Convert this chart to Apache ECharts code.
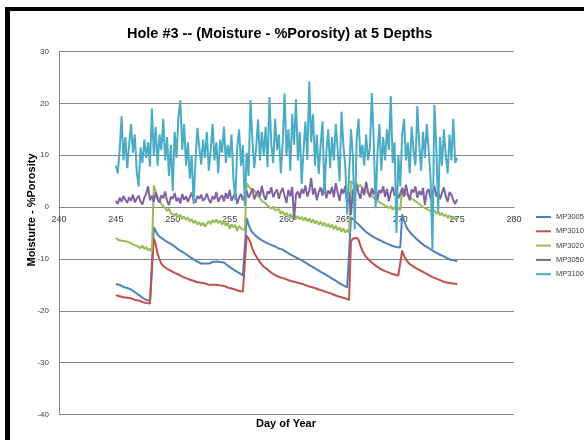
<!DOCTYPE html>
<html>
<head>
<meta charset="utf-8">
<script src="https://cdn.jsdelivr.net/npm/echarts@6/dist/echarts.min.js"></script>
<style>
html,body{margin:0;padding:0;background:#fff;}
#chart{width:584px;height:440px;}
</style>
</head>
<body>
<div id="chart"></div>
<script>
// sampling: one reading every 4 hours from day 245.0 to day 275.0
const START_DAY = 245;
const STEP_DAY = 1 / 6;

const seriesNames = ['MP3005', 'MP3010', 'MP3020', 'MP3050', 'MP3100'];
const xTicks = [240, 245, 250, 255, 260, 265, 270, 275, 280];
const yTicks = [-40, -30, -20, -10, 0, 10, 20, 30];

const mp3005 = [
-14.9,-15.1,-15.0,-15.3,-15.4,-15.3,-15.6,-15.8,-15.9,-16.2,-16.4,-16.7,-16.9,-17.2,-17.5,-17.6,-17.9,-17.8,-18.0,-18.2,
-3.9,-4.6,-5.3,-5.7,-6.0,-6.2,-6.4,-6.7,-6.8,-7.1,-7.3,-7.6,-7.9,-8.2,-8.5,-8.6,-8.9,-9.1,-9.4,-9.6,
-9.9,-10.1,-10.3,-10.5,-10.6,-10.9,-11.0,-10.9,-11.1,-10.9,-10.8,-10.6,-10.4,-10.5,-10.3,-10.6,-10.8,-10.7,-11.0,-11.3,
-11.5,-11.8,-12.0,-12.3,-12.5,-12.7,-12.9,-13.2,-13.3,
-2.1,-3.4,-4.3,-4.9,-5.2,-5.6,-5.9,-6.2,-6.5,-6.6,-6.9,-7.0,-7.2,-7.3,-7.5,-7.6,-7.9,-8.0,-8.1,-8.2,
-8.5,-8.7,-8.9,-9.1,-9.3,-9.5,-9.8,-9.9,-10.1,-10.3,-10.4,-10.7,-10.9,-11.2,-11.4,-11.6,-11.8,-12.0,-12.2,-12.5,
-12.7,-12.9,-13.1,-13.3,-13.5,-13.8,-14.0,-14.2,-14.4,-14.7,-14.8,-15.1,-15.3,-15.5,-15.7,
-2.0,-2.3,-2.6,-3.0,-3.3,-3.7,-4.1,-4.4,-4.8,-5.1,-5.3,-5.6,-5.8,-6.0,-6.2,-6.4,-6.5,-6.7,-6.9,-7.0,
-7.2,-7.3,-7.5,-7.6,-7.7,-7.6,-7.8,
-1.4,-2.6,-3.6,-4.3,-4.8,-5.2,-5.6,-5.9,-6.3,-6.6,-6.9,-7.2,-7.5,-7.7,-7.9,-8.2,-8.4,-8.6,-8.8,-9.0,
-9.2,-9.4,-9.5,-9.7,-9.9,-10.0,-10.2,-10.4,-10.3,-10.5
];

const mp3010 = [
-17.0,-17.1,-17.2,-17.2,-17.4,-17.3,-17.5,-17.6,-17.6,-17.8,-17.9,-18.0,-18.0,-18.2,-18.3,-18.3,-18.5,-18.4,-18.6,-18.7,
-6.0,-7.2,-8.9,-10.1,-10.9,-11.4,-11.7,-11.9,-12.1,-12.3,-12.4,-12.7,-12.8,-13.0,-13.2,-13.4,-13.5,-13.7,-13.8,-14.0,
-14.1,-14.2,-14.3,-14.5,-14.6,-14.6,-14.8,-14.7,-14.9,-15.0,-14.9,-15.0,-15.1,-15.0,-15.2,-15.1,-15.3,-15.2,-15.4,-15.5,
-15.5,-15.7,-15.8,-15.9,-16.0,-16.2,-16.1,-16.3,-16.4,
-5.5,-5.6,-6.8,-8.0,-8.9,-9.5,-10.1,-10.6,-11.1,-11.5,-11.8,-12.0,-12.4,-12.7,-12.9,-13.1,-13.3,-13.4,-13.6,-13.7,
-13.8,-13.9,-14.1,-14.2,-14.3,-14.4,-14.5,-14.6,-14.7,-14.8,-14.9,-15.0,-15.2,-15.3,-15.4,-15.5,-15.6,-15.7,-15.9,-16.0,
-16.1,-16.3,-16.4,-16.5,-16.6,-16.8,-16.9,-17.0,-17.2,-17.3,-17.4,-17.5,-17.6,-17.7,-17.9,
-6.6,-6.1,-6.0,-5.9,-6.3,-7.5,-8.4,-9.1,-9.6,-10.0,-10.3,-10.7,-11.0,-11.3,-11.6,-11.8,-12.0,-12.2,-12.3,-12.5,
-12.6,-12.8,-12.9,-13.0,-13.1,-13.2,-13.3,
-8.4,-9.4,-10.1,-10.6,-11.0,-11.3,-11.5,-11.7,-11.9,-12.0,-12.3,-12.5,-12.7,-12.9,-13.1,-13.3,-13.5,-13.6,-13.8,-14.0,
-14.1,-14.3,-14.4,-14.5,-14.6,-14.7,-14.7,-14.9,-14.8,-14.9
];

const mp3020 = [
-5.9,-6.3,-6.1,-6.5,-6.3,-6.6,-6.4,-6.8,-6.7,-7.2,-6.9,-7.5,-7.3,-7.9,-7.4,-8.1,-7.7,-8.4,-8.0,-8.6,
4.2,3.1,2.0,1.5,0.6,0.9,-0.2,-0.7,-0.3,-1.2,-0.9,-1.6,-1.2,-2.0,-1.5,-2.3,-1.8,-2.5,-2.0,-2.8,
-2.3,-3.1,-2.6,-3.4,-2.9,-3.6,-3.0,-3.8,-3.2,-2.7,-3.3,-2.5,-3.0,-2.4,-3.1,-2.6,-3.4,-2.8,-3.6,-3.0,
-4.2,-3.3,-3.9,-3.4,-4.6,-3.6,-4.1,-3.8,-4.5,
4.6,4.0,3.6,3.9,3.2,2.7,2.1,1.8,1.2,1.5,0.7,0.3,0.6,-0.3,0.1,-0.6,-0.9,-0.4,-1.3,-0.8,
-1.6,-1.1,-1.9,-1.3,-2.1,-1.5,-2.3,-1.7,-2.4,-1.9,-2.6,-2.0,-2.8,-2.2,-3.0,-2.4,-3.2,-2.6,-3.4,-2.8,
-3.6,-3.0,-3.8,-3.2,-4.0,-3.4,-4.3,-3.6,-4.5,-3.9,-4.8,-4.1,-4.9,-4.4,-5.0,
5.0,4.6,4.1,4.5,3.9,4.3,3.6,3.9,3.0,3.3,2.4,2.7,1.8,2.0,1.2,1.5,0.7,1.0,0.3,0.6,
-0.2,0.2,-0.5,0.0,-0.7,-0.2,-0.6,
3.8,3.1,2.5,2.7,1.9,2.2,1.4,1.6,0.9,1.1,0.3,0.6,-0.2,0.1,-0.6,-0.3,-1.0,-0.6,-1.3,-0.9,
-1.6,-1.1,-1.8,-1.4,-2.1,-1.6,-2.3,-1.8,-2.4,-2.0
];

const mp3050 = [
1.2,0.6,1.8,1.0,2.1,1.4,0.8,1.9,1.2,2.4,0.9,1.6,2.2,1.1,0.5,1.8,2.6,4.0,1.3,
2.2,1.0,2.8,1.5,0.9,2.3,1.7,3.0,1.2,0.4,2.0,1.6,2.7,1.1,1.8,0.7,2.5,1.4,2.1,1.0,1.9,2.8,1.3,0.9,2.2,1.6,2.4,1.2,1.7,
2.6,1.4,0.8,2.1,1.5,2.9,1.0,1.8,2.3,1.1,2.7,1.6,3.3,1.2,2.0,2.8,0.6,1.9,2.5,1.3,2.2,
3.1,1.8,2.6,3.6,1.5,2.4,3.2,2.0,4.1,2.3,1.4,3.0,2.6,3.8,1.9,2.8,3.4,1.6,2.9,3.7,2.2,0.8,3.3,2.1,3.9,-2.5,2.4,3.0,1.7,3.5,2.6,4.2,
2.0,3.1,5.6,2.4,3.6,1.3,2.9,3.8,2.2,4.4,1.7,3.2,2.5,3.9,1.9,4.6,2.8,1.2,3.5,2.6,4.1,0.3,2.9,
-1.5,3.4,2.1,4.5,2.7,1.6,3.8,2.3,4.9,3.0,1.9,3.6,2.4,4.2,1.4,3.3,2.7,4.0,2.0,3.5,1.1,2.8,3.9,2.2,3.1,1.7,2.6,
3.6,2.0,4.3,2.5,1.3,3.4,2.8,4.0,1.8,3.1,2.3,3.7,0.4,2.9,3.5,1.6,2.6,4.1,2.0,3.2,1.5,2.7,3.8,2.1,1.0,2.9,2.4,1.3,0.6,1.5
];

const mp3100 = [
8.0,6.5,11.0,17.5,9.0,13.5,
7.5,12.0,16.0,10.5,14.0,6.8,
4.0,11.5,8.5,13.0,9.5,12.5,
7.8,19.0,10.0,15.5,8.0,14.0,
11.0,17.0,9.0,13.5,6.0,12.0,
3.1,14.5,9.5,17.5,20.6,11.0,
16.0,8.0,12.5,5.5,10.0,0.6,
9.0,15.3,11.5,8.2,13.0,9.5,
14.5,7.0,11.0,16.0,9.0,12.5,
6.5,13.0,10.5,15.5,8.5,12.0,
9.5,14.0,5.5,1.3,11.5,15.0,
8.0,12.0,0.3,10.5,6.0,20.6,
13.0,7.5,11.5,16.9,9.0,14.5,
10.0,15.5,7.7,21.2,12.0,8.5,
17.0,11.0,14.0,6.5,12.5,21.9,
10.0,15.0,7.0,18.0,12.0,20.8,
9.0,14.5,4.5,11.0,16.5,9.1,
24.2,12.5,17.9,8.0,14.0,6.4,
12.0,16.5,2.5,10.5,15.0,7.5,
13.5,9.0,16.0,11.0,5.0,18.4,
12.0,8.0,-1.4,6.0,15.0,10.0,
-4.3,13.0,17.0,9.5,12.0,8.0,
14.0,9.0,11.5,22.0,13.0,-0.2,
10.5,16.0,7.0,13.5,9.0,15.0,
11.0,21.4,8.5,12.5,-5.0,10.0,
4.0,14.0,17.0,9.0,12.5,6.5,
15.5,11.0,8.0,19.5,12.0,7.0,
14.5,9.5,16.0,11.0,5.5,-8.2,
19.7,12.0,-1.1,13.5,8.0,15.0,
10.0,6.5,14.0,9.0,17.0,8.5,
9.5
];

const seriesValues = [mp3005, mp3010, mp3020, mp3050, mp3100];
const seriesColors = ['#4F81BD', '#C0504D', '#9BBB59', '#8064A2', '#4BACC6'];

const FONT = '"Liberation Sans", Arial, sans-serif';

function toPairs(vals) {
  return vals.map((v, i) => [START_DAY + i * STEP_DAY, v]);
}

const GRID_TOP = 51.5, GRID_H = 363;
// distance from bottom of plot to the value-0 line (axis crosses at 0)
const zeroOffset = GRID_H * (0 - yTicks[0]) / (yTicks[yTicks.length - 1] - yTicks[0]);

const chart = echarts.init(document.getElementById('chart'), null, {renderer: 'canvas'});

const option = {
  animation: false,
  backgroundColor: '#ffffff',
  textStyle: {fontFamily: FONT},
  title: {
    text: 'Hole #3 -- (Moisture - %Porosity) at 5 Depths',
    left: 122,
    top: 21,
    textStyle: {fontFamily: FONT, fontSize: 14.5, fontWeight: 'bold', color: '#000000'}
  },
  grid: {left: 59, top: GRID_TOP, width: 455, height: GRID_H, containLabel: false},
  legend: {
    orient: 'vertical',
    left: 531,
    top: 207,
    itemWidth: 15,
    itemHeight: 2,
    itemGap: 4.3,
    icon: 'rect',
    data: seriesNames,
    textStyle: {fontFamily: FONT, fontSize: 7.5, color: '#404040', lineHeight: 10}
  },
  xAxis: {
    type: 'value',
    position: 'bottom',
    offset: -zeroOffset,
    min: xTicks[0],
    max: xTicks[xTicks.length - 1],
    interval: 5,
    axisLine: {show: true, onZero: false, lineStyle: {color: '#868686', width: 1}},
    axisTick: {show: false},
    splitLine: {show: false},
    axisLabel: {fontFamily: FONT, fontSize: 9, color: '#404040', margin: 8}
  },
  yAxis: {
    type: 'value',
    min: yTicks[0],
    max: yTicks[yTicks.length - 1],
    interval: 10,
    axisLine: {show: true, onZero: false, lineStyle: {color: '#868686', width: 1}},
    axisTick: {show: false},
    splitLine: {show: true, lineStyle: {color: '#868686', width: 1}},
    axisLabel: {fontFamily: FONT, fontSize: 8, color: '#404040', margin: 10}
  },
  graphic: [
    {type: 'rect', shape: {x: 5, y: 7, width: 5, height: 440}, style: {fill: '#000'}, silent: true, z: 100},
    {type: 'rect', shape: {x: 5, y: 7, width: 584, height: 4}, style: {fill: '#000'}, silent: true, z: 100},
    {type: 'text', left: 256, top: 418,
     style: {text: 'Day of Year', fontFamily: FONT, fontSize: 11, fontWeight: 'bold', fill: '#000'}},
    {type: 'text', x: 32, y: 210, rotation: Math.PI / 2,
     style: {text: 'Moisturte - %Porosity', fontFamily: FONT, fontSize: 11, fontWeight: 'bold', fill: '#000',
             align: 'center', verticalAlign: 'middle'}}
  ],
  series: seriesValues.map((vals, k) => ({
    name: seriesNames[k],
    type: 'line',
    data: toPairs(vals),
    showSymbol: false,
    symbol: 'none',
    color: seriesColors[k],
    lineStyle: {width: 2, color: seriesColors[k]},
    z: 2 + k
  }))
};

chart.setOption(option);
</script>
</body>
</html>
